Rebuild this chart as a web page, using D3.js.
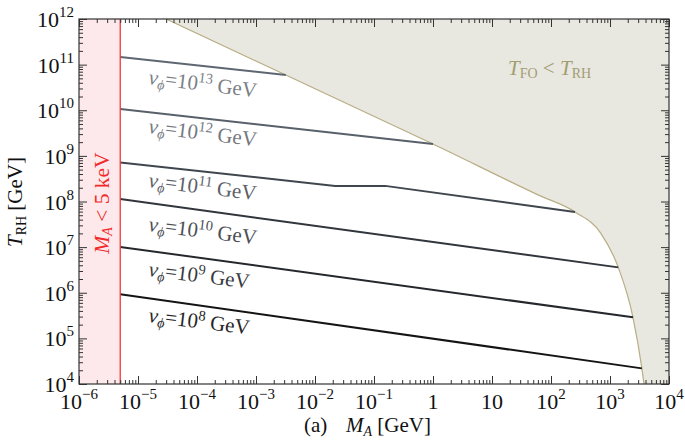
<!DOCTYPE html>
<html><head><meta charset="utf-8">
<script src="https://cdn.jsdelivr.net/npm/d3@7"></script>
<style>body{margin:0;background:#fff}svg{display:block}</style>
</head><body>
<svg id="c" width="685" height="444"></svg>
<script>
// ---- data ----
const xTickExps = [-6,-5,-4,-3,-2,-1,0,1,2,3,4];
const xTickLabels = [["10","−6"],["10","−5"],["10","−4"],["10","−3"],["10","−2"],["10","−1"],["1",""],["10",""],["10","2"],["10","3"],["10","4"]];
const yTickExps = [4,5,6,7,8,9,10,11,12];
const keVLimit = 5e-6;
const nu13 = [[5e-6,1.47e11],[3.2e-3,5.9e10]];
const nu12 = [[5e-6,1.07e10],[1.0,1.82e9]];
const nu11 = [[5e-6,7.2e8],[0.022,2.2e8],[0.155,2.2e8],[255,5.9e7]];
const nu10 = [[5e-6,1.13e8],[1380,3.6e6]];
const nu9  = [[5e-6,1.01e7],[2450,2.9e5]];
const nu8  = [[5e-6,9.3e5],[3470,2.2e4]];
const seriesNames = ["13","12","11","10","9","8"];
const boundary = [[3.0e-5,1e12],[3.2e-3,5.9e10],[1.0,1.82e9],[60,1.4e8],[255,5.9e7],[700,2.0e7],[1380,3.6e6],[2450,2.9e5],[3470,2.2e4],[3770,1e4]];

// ---- layout ----
const L=79,R=669,T=19,B=384;
const svg=d3.select("#c");
const x=d3.scaleLog().domain([1e-6,1e4]).range([L,R]);
const y=d3.scaleLog().domain([1e4,1e12]).range([B,T]);
const serif="'Liberation Serif','Times New Roman',serif";

svg.append("defs").append("clipPath").attr("id","clip")
  .append("rect").attr("x",L).attr("y",T).attr("width",R-L).attr("height",B-T);

// excluded light region
svg.append("rect").attr("x",x(1e-6)).attr("y",T).attr("width",x(keVLimit)-x(1e-6)).attr("height",B-T)
  .attr("fill","#fde9eb");

// shaded T_FO<T_RH region
const bLine=d3.line().x(d=>x(d[0])).y(d=>y(d[1])).curve(d3.curveMonotoneX);
const g=svg.append("g").attr("clip-path","url(#clip)");
g.append("path")
  .attr("d", bLine(boundary)+"L"+x(1e4)+","+y(1e4)+"L"+x(1e4)+","+y(1e12)+"Z")
  .attr("fill","#e8e7e0");
g.append("path").attr("d",bLine(boundary)).attr("fill","none").attr("stroke","#b8ad84").attr("stroke-width",1.2);

// nu lines
const series=[nu13,nu12,nu11,nu10,nu9,nu8];
const lineCols=["#5e6771","#58606a","#3f464d","#30363c","#24282c","#141414"];
const labCols=["#7b8086","#747980","#5c6166","#4b4f54","#383b3e","#262626"];
const ln=d3.line().x(d=>x(d[0])).y(d=>y(d[1]));
series.forEach((s,i)=>{
  g.append("path").attr("d",ln(s)).attr("fill","none").attr("stroke",lineCols[i]).attr("stroke-width",2);
});

// labels
const labY=[84,133,187,231,276,322];
series.forEach((s,i)=>{
  const lx=148, ly=labY[i];
  const t=svg.append("text").attr("transform",`translate(${lx},${ly}) rotate(7)`)
    .attr("font-family",serif).attr("font-size",21).attr("fill",labCols[i]);
  t.append("tspan").attr("font-style","italic").text("ν");
  t.append("tspan").attr("font-style","italic").attr("font-size",14).attr("dy",4).text("ϕ");
  t.append("tspan").attr("dy",-4).text("=10");
  t.append("tspan").attr("font-size",14.5).attr("dy",-8).text(seriesNames[i]);
  t.append("tspan").attr("dy",8).text(" GeV");
});

// red line
svg.append("line").attr("x1",x(keVLimit)).attr("x2",x(keVLimit)).attr("y1",T).attr("y2",B)
  .attr("stroke","#f03a3a").attr("stroke-width",1.3);
const rt=svg.append("text").attr("transform",`translate(109,203) rotate(-90)`).attr("text-anchor","middle")
  .attr("font-family",serif).attr("font-size",21.5).attr("fill","#f02a2a");
rt.append("tspan").attr("font-style","italic").text("M");
rt.append("tspan").attr("font-style","italic").attr("font-size",14).attr("dy",3).text("A");
rt.append("tspan").attr("dy",-3).text(" < 5 keV");

// T_FO < T_RH label
const ft=svg.append("text").attr("x",508).attr("y",75).attr("font-family",serif).attr("font-size",21).attr("fill","#a39d72");
ft.append("tspan").attr("font-style","italic").text("T");
ft.append("tspan").attr("font-size",14).attr("dy",3).text("FO");
ft.append("tspan").attr("dy",-3).text(" < ");
ft.append("tspan").attr("font-style","italic").text("T");
ft.append("tspan").attr("font-size",14).attr("dy",3).text("RH");

// ---- axes ----
const xMajor=xTickExps.map(e=>Math.pow(10,e));
const xMinor=[];xTickExps.slice(0,-1).forEach(e=>{for(let k=2;k<10;k++)xMinor.push(k*Math.pow(10,e));});
const yMajor=yTickExps.map(e=>Math.pow(10,e));
const yMinor=[];yTickExps.slice(0,-1).forEach(e=>{for(let k=2;k<10;k++)yMinor.push(k*Math.pow(10,e));});
const ax=(gen,pos,vals,size)=>{
  const a=svg.append("g").attr("transform",pos).call(gen.tickValues(vals).tickSize(size).tickFormat(""));
  a.select(".domain").remove();
  a.selectAll("line").attr("stroke","#333").attr("stroke-width",1);
  return a;
};
ax(d3.axisBottom(x),`translate(0,${B})`,xMajor,-8);
ax(d3.axisBottom(x),`translate(0,${B})`,xMinor,-4);
ax(d3.axisTop(x),`translate(0,${T})`,xMajor,-8);
ax(d3.axisTop(x),`translate(0,${T})`,xMinor,-4);
ax(d3.axisLeft(y),`translate(${L},0)`,yMajor,-8);
ax(d3.axisLeft(y),`translate(${L},0)`,yMinor,-4);
ax(d3.axisRight(y),`translate(${R},0)`,yMajor,-8);
ax(d3.axisRight(y),`translate(${R},0)`,yMinor,-4);
svg.append("rect").attr("x",L).attr("y",T).attr("width",R-L).attr("height",B-T)
  .attr("fill","none").attr("stroke","#333").attr("stroke-width",1.2);

// tick labels
xMajor.forEach((v,i)=>{
  const t=svg.append("text").attr("x",x(v)).attr("y",409).attr("text-anchor","middle")
    .attr("font-family",serif).attr("font-size",22).attr("fill","#111");
  t.append("tspan").text(xTickLabels[i][0]);
  if(xTickLabels[i][1]) t.append("tspan").attr("font-size",15).attr("dy",-10).text(xTickLabels[i][1]);
});
yMajor.forEach((v,i)=>{
  const t=svg.append("text").attr("x",74).attr("y",y(v)+8).attr("text-anchor","end")
    .attr("font-family",serif).attr("font-size",22).attr("fill","#111");
  t.append("tspan").text("10");
  t.append("tspan").attr("font-size",15).attr("dy",-10).text(String(yTickExps[i]));
});

// axis titles
const xt=svg.append("text").attr("x",304).attr("y",432).attr("font-family",serif).attr("font-size",21).attr("fill","#111");
xt.append("tspan").text("(a)");
xt.append("tspan").attr("x",346).attr("font-style","italic").text("M");
xt.append("tspan").attr("font-style","italic").attr("font-size",14).attr("dy",4).text("A");
xt.append("tspan").attr("dy",-4).text(" [GeV]");
const yt=svg.append("text").attr("transform","translate(22,202) rotate(-90)").attr("text-anchor","middle")
  .attr("font-family",serif).attr("font-size",21).attr("fill","#111");
yt.append("tspan").attr("font-style","italic").text("T");
yt.append("tspan").attr("font-size",14).attr("dy",4).text("RH");
yt.append("tspan").attr("dy",-4).text(" [GeV]");
</script>
</body></html>
